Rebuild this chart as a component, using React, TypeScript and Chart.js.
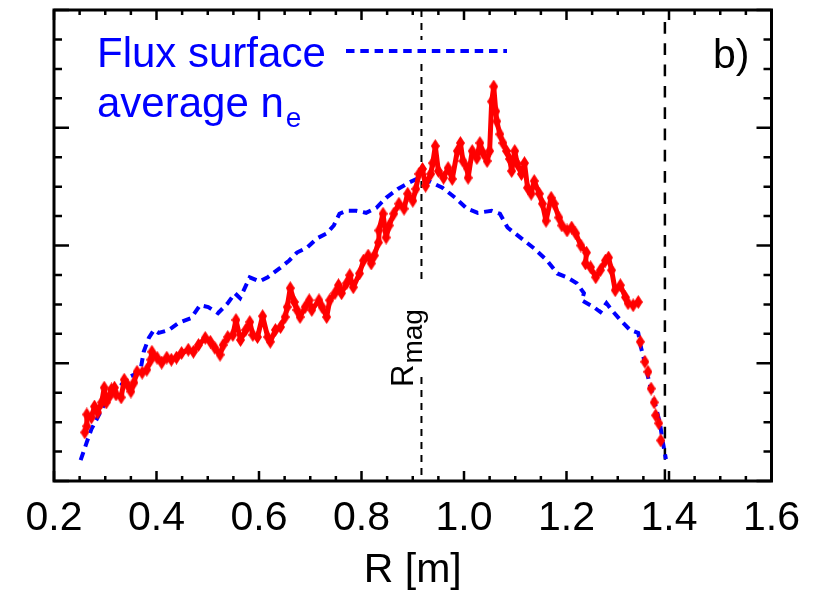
import React, { useEffect, useRef } from "react";
import { Chart, registerables } from "chart.js";

Chart.register(...registerables);

// ---- data (R in m, density in arbitrary units; axis range 0..16) ----
const X_TICKS = [0.2, 0.4, 0.6, 0.8, 1.0, 1.2, 1.4, 1.6];
const X_MINOR_STEP = 0.05;
const Y_MIN = 0;
const Y_MAX = 16;
const Y_MINOR_STEP = 1;
const Y_MAJOR_EVERY = 4;

const R_MAG = 0.917;
const R_EDGE = 1.392;

const fluxR = [0.252,0.264,0.273,0.283,0.298,0.312,0.327,0.343,0.356,0.370,0.375,0.385,0.395,0.404,0.424,0.443,0.468,0.485,0.501,0.520,0.539,0.553,0.563,0.582,0.601,0.617,0.640,0.659,0.674,0.694,0.713,0.732,0.746,0.757,0.771,0.790,0.809,0.829,0.848,0.871,0.892,0.912,0.931,0.958,0.983,1.006,1.027,1.054,1.070,1.085,1.112,1.137,1.162,1.182,1.201,1.220,1.234,1.230,1.253,1.266,1.278,1.288,1.305,1.324,1.340,1.345,1.353,1.359,1.365,1.372,1.382,1.388,1.394];
const fluxN = [0.71,1.32,1.76,2.09,2.60,2.94,3.17,3.51,3.61,3.88,4.39,4.86,5.13,5.03,5.13,5.37,5.54,5.97,5.91,5.70,6.04,6.38,6.21,6.92,6.78,6.92,7.22,7.49,7.76,7.93,8.24,8.41,8.68,9.08,9.18,9.18,9.11,9.28,9.62,9.92,10.13,10.30,10.19,9.96,9.62,9.25,9.11,9.18,9.08,8.61,8.24,7.90,7.49,7.05,6.92,6.72,6.38,6.14,5.91,5.74,6.04,5.81,5.47,5.13,5.03,4.56,4.02,3.54,3.11,2.67,1.99,1.32,0.74];

const measR = [0.260,0.264,0.264,0.273,0.279,0.285,0.293,0.298,0.302,0.308,0.312,0.318,0.321,0.331,0.337,0.343,0.350,0.356,0.362,0.372,0.381,0.389,0.391,0.401,0.410,0.420,0.429,0.439,0.449,0.462,0.472,0.482,0.495,0.505,0.514,0.524,0.530,0.539,0.549,0.555,0.564,0.574,0.582,0.588,0.597,0.607,0.617,0.622,0.632,0.642,0.651,0.655,0.661,0.669,0.674,0.680,0.690,0.698,0.703,0.717,0.723,0.732,0.738,0.748,0.755,0.761,0.771,0.777,0.784,0.796,0.804,0.813,0.819,0.825,0.833,0.834,0.842,0.848,0.854,0.863,0.873,0.883,0.890,0.900,0.906,0.912,0.919,0.925,0.935,0.939,0.944,0.950,0.960,0.969,0.977,0.987,0.993,0.998,1.006,1.008,1.016,1.025,1.031,1.037,1.045,1.050,1.054,1.058,1.062,1.064,1.070,1.076,1.083,1.089,1.093,1.099,1.104,1.112,1.118,1.124,1.131,1.137,1.147,1.153,1.160,1.170,1.176,1.185,1.191,1.201,1.210,1.218,1.228,1.239,1.237,1.247,1.257,1.266,1.276,1.282,1.288,1.295,1.305,1.315,1.320,1.330,1.340];
const measN = [1.65,1.86,2.26,2.16,2.53,2.33,2.67,3.17,2.67,2.87,3.11,3.17,2.94,2.84,3.44,3.27,3.04,3.34,3.71,3.68,3.78,4.12,4.39,4.19,4.02,4.19,4.12,4.19,4.35,4.46,4.39,4.62,4.86,4.73,4.52,4.29,4.62,4.89,4.96,5.47,4.79,5.13,5.40,4.96,4.89,5.60,4.89,4.73,5.13,5.23,5.57,5.91,6.55,6.08,5.81,5.57,5.91,6.14,5.81,6.14,5.91,5.57,6.14,6.38,6.65,6.38,6.72,6.99,6.58,7.05,7.49,7.66,7.39,7.66,8.10,8.51,9.08,8.27,8.68,9.08,9.42,9.25,9.76,9.52,9.92,10.43,10.60,10.03,10.43,10.80,11.38,10.53,10.30,10.63,10.26,11.21,11.48,10.87,10.63,10.30,11.21,10.97,11.48,11.14,10.87,11.21,12.89,13.40,12.56,12.22,11.78,11.48,11.21,10.94,10.53,11.21,10.77,10.43,10.80,9.96,9.76,10.19,9.76,9.42,8.84,9.62,9.42,8.95,8.68,8.51,8.61,8.41,8.00,7.76,7.39,7.26,6.92,7.16,7.49,7.59,7.16,6.48,6.65,6.24,6.04,5.97,6.08];

const tailR = [1.344,1.353,1.359,1.365,1.371,1.374,1.380,1.384];
const tailN = [4.73,4.05,3.71,3.14,2.67,2.23,1.96,1.38];

// ---- styles ----
const FONT = "'Liberation Sans', Arial, Helvetica, sans-serif";
const BLUE = "#0000ff";
const RED = "#ff0000";

function pts(xs: number[], ys: number[]) {
  return xs.map((x, i) => ({ x, y: ys[i] }));
}

function makeDiamond(): HTMLCanvasElement {
  const c = document.createElement("canvas");
  c.width = 9;
  c.height = 14;
  const g = c.getContext("2d")!;
  g.fillStyle = RED;
  g.beginPath();
  g.moveTo(4.5, 0);
  g.lineTo(9, 7);
  g.lineTo(4.5, 14);
  g.lineTo(0, 7);
  g.closePath();
  g.fill();
  return c;
}

const overlayPlugin = {
  id: "overlay",
  beforeDatasetsDraw(chart: any) {
    const { ctx, chartArea: a, scales } = chart;
    const xs = scales.x;
    ctx.save();
    ctx.strokeStyle = "#000";
    // R_mag dashed line with gaps for legend and label
    const xm = xs.getPixelForValue(R_MAG);
    ctx.lineWidth = 2;
    ctx.setLineDash([7, 6]);
    const segs = [
      [a.top, 40],
      [64, 282],
      [377, a.bottom],
    ];
    for (const [y0, y1] of segs) {
      ctx.beginPath();
      ctx.moveTo(xm, y0);
      ctx.lineTo(xm, y1);
      ctx.stroke();
    }
    // edge dashed line
    const xe = xs.getPixelForValue(R_EDGE);
    ctx.lineWidth = 2.5;
    ctx.setLineDash([11.7, 9.6]);
    ctx.beginPath();
    ctx.moveTo(xe, a.top + 12);
    ctx.lineTo(xe, a.bottom);
    ctx.stroke();
    ctx.restore();
  },
  afterDraw(chart: any) {
    const { ctx, chartArea: a, scales } = chart;
    const xs = scales.x;
    const ys = scales.y;
    ctx.save();
    ctx.strokeStyle = "#000";
    ctx.setLineDash([]);
    // ticks (inward)
    ctx.lineWidth = 2.5;
    const xMin = X_TICKS[0];
    const xMax = X_TICKS[X_TICKS.length - 1];
    const nX = Math.round((xMax - xMin) / X_MINOR_STEP);
    for (let i = 0; i <= nX; i++) {
      const v = xMin + i * X_MINOR_STEP;
      const p = xs.getPixelForValue(v);
      const len = i % 4 === 0 ? 10 : 5;
      ctx.beginPath();
      ctx.moveTo(p, a.bottom);
      ctx.lineTo(p, a.bottom - len);
      ctx.moveTo(p, a.top);
      ctx.lineTo(p, a.top + len);
      ctx.stroke();
    }
    const nY = Math.round((Y_MAX - Y_MIN) / Y_MINOR_STEP);
    for (let i = 0; i <= nY; i++) {
      const v = Y_MIN + i * Y_MINOR_STEP;
      const p = ys.getPixelForValue(v);
      const len = i % Y_MAJOR_EVERY === 0 ? 15 : 8;
      ctx.beginPath();
      ctx.moveTo(a.left, p);
      ctx.lineTo(a.left + len, p);
      ctx.moveTo(a.right, p);
      ctx.lineTo(a.right - len, p);
      ctx.stroke();
    }
    // frame
    ctx.lineWidth = 3;
    ctx.strokeRect(a.left, a.top, a.right - a.left, a.bottom - a.top);

    // legend
    ctx.textBaseline = "alphabetic";
    ctx.textAlign = "left";
    ctx.fillStyle = BLUE;
    ctx.font = `42px ${FONT}`;
    ctx.fillText("Flux surface", 97, 67);
    ctx.fillText("average n", 97, 117);
    const w = ctx.measureText("average n").width;
    ctx.font = `28px ${FONT}`;
    ctx.fillText("e", 97 + w + 2, 127);
    ctx.strokeStyle = BLUE;
    ctx.lineWidth = 4;
    ctx.setLineDash([8.5, 5.8]);
    ctx.beginPath();
    ctx.moveTo(346, 51);
    ctx.lineTo(507, 51);
    ctx.stroke();
    ctx.setLineDash([]);

    // panel label
    ctx.fillStyle = "#000";
    ctx.font = `41px ${FONT}`;
    ctx.fillText("b)", 713, 68);

    // R_mag label (rotated)
    ctx.save();
    ctx.translate(413, 387);
    ctx.rotate(-Math.PI / 2);
    ctx.font = `31px ${FONT}`;
    ctx.fillText("R", 0, 0);
    const wr = ctx.measureText("R").width;
    ctx.font = `28px ${FONT}`;
    ctx.fillText("mag", wr + 1, 9);
    ctx.restore();

    ctx.restore();
  },
};

export default function App() {
  const ref = useRef<HTMLCanvasElement | null>(null);
  useEffect(() => {
    document.body.style.margin = "0";
    const canvas = ref.current;
    if (!canvas) return;
    const diamond = makeDiamond();
    const chart = new Chart(canvas, {
      type: "line",
      data: {
        datasets: [
          {
            label: "Flux surface average ne",
            data: pts(fluxR, fluxN),
            borderColor: BLUE,
            borderWidth: 4,
            borderDash: [8.5, 5.8],
            pointRadius: 0,
            fill: false,
            tension: 0,
            order: 2,
          },
          {
            label: "ne",
            data: pts(measR, measN),
            borderColor: RED,
            borderWidth: 5,
            borderJoinStyle: "round",
            pointStyle: diamond,
            pointRadius: 5,
            fill: false,
            tension: 0,
            order: 1,
          },
          {
            label: "ne edge",
            data: pts(tailR, tailN),
            borderColor: RED,
            showLine: false,
            pointStyle: diamond,
            pointRadius: 5,
            order: 1,
          },
        ],
      },
      options: {
        responsive: false,
        animation: false,
        events: [],
        layout: { padding: { left: 54, right: 37, top: 9, bottom: 2 } },
        plugins: { legend: { display: false }, tooltip: { enabled: false } },
        scales: {
          x: {
            type: "linear",
            position: "bottom",
            min: X_TICKS[0],
            max: X_TICKS[X_TICKS.length - 1],
            afterBuildTicks: (scale: any) => {
              scale.ticks = X_TICKS.map((v) => ({ value: v }));
            },
            afterFit: (scale: any) => {
              scale.height = 110;
            },
            ticks: {
              callback: (v: any) => Number(v).toFixed(1),
              font: { family: FONT, size: 41, lineHeight: 1 },
              color: "#000",
              padding: 17,
              maxRotation: 0,
              autoSkip: false,
            },
            grid: { display: false, drawTicks: false },
            border: { display: false },
            title: {
              display: true,
              text: "R [m]",
              color: "#000",
              font: { family: FONT, size: 41, lineHeight: 1 },
              padding: 0,
            },
          },
          y: {
            type: "linear",
            display: false,
            min: Y_MIN,
            max: Y_MAX,
          },
        },
      },
      plugins: [overlayPlugin],
    } as any);
    return () => chart.destroy();
  }, []);
  return (
    <div style={{ width: 817, height: 593 }}>
      <canvas ref={ref} width={817} height={593} style={{ display: "block" }} />
    </div>
  );
}
